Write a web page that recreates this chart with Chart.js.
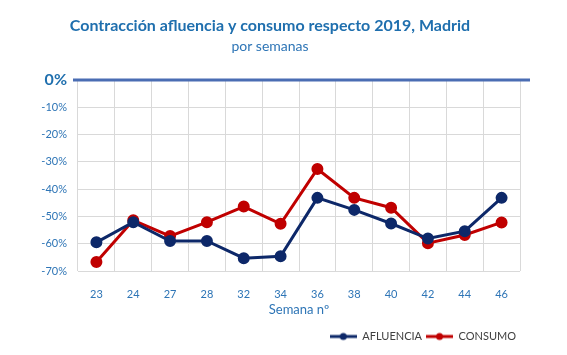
<!DOCTYPE html>
<html>
<head>
<meta charset="utf-8">
<script src="https://cdn.jsdelivr.net/npm/chart.js@4"></script>
<style>
html,body{margin:0;padding:0;background:#fff;}
#wrap{width:567px;height:355px;position:relative;}
</style>
</head>
<body>
<div id="wrap"><canvas id="c" width="567" height="355"></canvas></div>
<script>
const weeks = ['23','24','27','28','32','34','36','38','40','42','44','46'];
const afluencia = [-59.5,-52.1,-59.0,-59.0,-65.3,-64.6,-43.2,-47.6,-52.6,-58.1,-55.4,-43.2];
const consumo = [-66.7,-51.4,-57.2,-52.1,-46.4,-52.7,-32.6,-43.2,-46.8,-59.8,-56.8,-52.2];
const yTicks = [0,-10,-20,-30,-40,-50,-60,-70];

const FONT = 'Lato, "Open Sans", sans-serif';

function legendIcon(color){
  const c = document.createElement('canvas');
  c.width = 27; c.height = 10;
  const g = c.getContext('2d');
  g.strokeStyle = color; g.lineWidth = 3;
  g.beginPath(); g.moveTo(0,5); g.lineTo(27,5); g.stroke();
  g.fillStyle = color;
  g.beginPath(); g.arc(13.5,5,3.5,0,Math.PI*2); g.fill();
  return c;
}

const zeroLine = {
  id:'zeroLine',
  beforeDatasetsDraw(chart){
    const y = chart.scales.y.getPixelForValue(0);
    const ctx = chart.ctx;
    ctx.save();
    ctx.strokeStyle = '#4a6db3';
    ctx.lineWidth = 3;
    ctx.beginPath();
    ctx.moveTo(chart.chartArea.left-5, y);
    ctx.lineTo(chart.chartArea.right+10, y);
    ctx.stroke();
    ctx.restore();
  }
};

new Chart(document.getElementById('c'), {
  type:'line',
  data:{
    labels: weeks,
    datasets:[
      {label:'AFLUENCIA', data:afluencia, borderColor:'#0d2869', backgroundColor:'#0d2869',
       borderWidth:3, pointRadius:4.5, pointHoverRadius:4.5, tension:0},
      {label:'CONSUMO', data:consumo, borderColor:'#c00000', backgroundColor:'#c00000',
       borderWidth:3, pointRadius:4.5, pointHoverRadius:4.5, tension:0}
    ]
  },
  options:{
    responsive:false,
    animation:false,
    layout:{padding:{left:20,right:47,top:10,bottom:3}},
    plugins:{
      title:{display:true, text:'Contracción afluencia y consumo respecto 2019, Madrid',
        color:'#1f6fae', font:{family:FONT, size:16, weight:'bold'}, padding:{top:6,bottom:3}},
      subtitle:{display:true, text:'por semanas', color:'#2e75b6',
        font:{family:FONT, size:14}, padding:{top:0,bottom:25}},
      legend:{position:'bottom', align:'end',
        labels:{usePointStyle:true, pointStyleWidth:27, boxHeight:10, color:'#404040',
          font:{family:FONT, size:11}, padding:4,
          generateLabels(chart){
            return chart.data.datasets.map((d,i)=>({text:d.label, pointStyle:legendIcon(d.borderColor),
              fillStyle:d.borderColor, strokeStyle:d.borderColor, lineWidth:0, datasetIndex:i, fontColor:'#404040'}));
          }}},
      tooltip:{enabled:false}
    },
    scales:{
      x:{
        offset:true,
        afterFit(s){ s.height = 56; },
        grid:{offset:true, color:'#d9d9d9', drawTicks:false},
        border:{display:false},
        ticks:{color:'#2e75b6', font:{family:FONT,size:11}, padding:17},
        title:{display:true, text:'Semana nº', color:'#2e75b6', font:{family:FONT,size:13}, padding:{top:0,bottom:9}}
      },
      y:{
        min:-70, max:0,
        afterBuildTicks(s){ s.ticks = yTicks.map(v=>({value:v})); },
        afterFit(s){ s.width = 58; },
        grid:{color(ctx){ return ctx.tick && ctx.tick.value===0 ? 'rgba(0,0,0,0)' : '#d9d9d9'; }, drawTicks:false},
        border:{display:false},
        ticks:{
          padding:11,
          color(ctx){ return ctx.tick && ctx.tick.value===0 ? '#1f6fae' : '#2e75b6'; },
          font(ctx){ return ctx.tick && ctx.tick.value===0 ? {family:FONT,size:16,weight:'bold'} : {family:FONT,size:11}; },
          callback(v){ return v + '%'; }
        }
      }
    }
  },
  plugins:[zeroLine]
});
</script>
</body>
</html>
